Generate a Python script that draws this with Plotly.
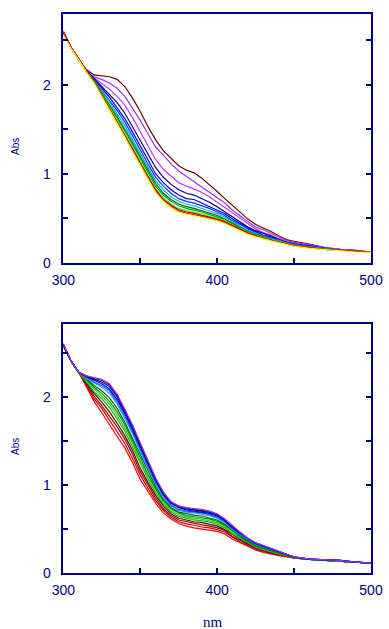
import plotly.graph_objects as go

# wavelength grid (nm)
WL = [300, 305, 310, 315, 320, 325, 330, 335, 340, 345, 350, 355, 360, 365, 370, 375,
      380, 385, 390, 395, 400, 405, 410, 415, 420, 425, 430, 435, 440, 445, 450,
      460, 470, 480, 490, 500]

# ---- top panel series ----
t_brown = [2.60,2.42,2.28,2.17,2.11,2.10,2.09,2.06,1.98,1.85,1.70,1.53,1.38,1.26,1.17,1.09,1.04,1.01,0.95,0.88,0.80,0.72,0.64,0.57,0.49,0.43,0.39,0.35,0.30,0.26,0.24,0.21,0.17,0.15,0.14,0.12]
t_purple = [2.60,2.42,2.28,2.16,2.09,2.06,2.02,1.96,1.87,1.74,1.60,1.45,1.30,1.21,1.11,1.03,0.97,0.92,0.86,0.80,0.74,0.67,0.59,0.53,0.46,0.40,0.37,0.33,0.29,0.25,0.23,0.20,0.17,0.15,0.14,0.12]
t_magenta = [2.59,2.42,2.28,2.16,2.08,2.02,1.95,1.87,1.77,1.63,1.47,1.31,1.16,1.05,0.97,0.90,0.86,0.83,0.79,0.74,0.68,0.62,0.55,0.49,0.43,0.38,0.34,0.31,0.27,0.24,0.22,0.19,0.16,0.15,0.13,0.12]
t_navy = [2.58,2.42,2.29,2.16,2.07,1.98,1.90,1.80,1.68,1.53,1.38,1.22,1.07,0.96,0.88,0.82,0.78,0.76,0.72,0.68,0.63,0.57,0.52,0.46,0.40,0.36,0.33,0.30,0.26,0.23,0.21,0.19,0.16,0.14,0.13,0.12]
t_blue = [2.58,2.42,2.29,2.15,2.06,1.96,1.86,1.74,1.62,1.47,1.31,1.15,1.00,0.90,0.82,0.76,0.72,0.71,0.67,0.63,0.59,0.55,0.49,0.44,0.39,0.35,0.31,0.29,0.26,0.23,0.21,0.18,0.16,0.14,0.13,0.12]
t_blue2 = [2.58,2.42,2.29,2.15,2.05,1.94,1.83,1.71,1.58,1.43,1.27,1.11,0.96,0.86,0.78,0.72,0.69,0.67,0.64,0.61,0.57,0.53,0.47,0.43,0.38,0.34,0.30,0.28,0.25,0.22,0.20,0.18,0.16,0.14,0.13,0.12]
t_cyan = [2.58,2.42,2.29,2.15,2.05,1.93,1.81,1.67,1.54,1.38,1.23,1.07,0.92,0.82,0.74,0.69,0.66,0.64,0.61,0.58,0.55,0.51,0.46,0.41,0.36,0.33,0.30,0.27,0.25,0.22,0.20,0.18,0.16,0.14,0.13,0.12]
t_dgreen = [2.58,2.42,2.29,2.15,2.04,1.91,1.78,1.64,1.50,1.35,1.19,1.04,0.89,0.78,0.71,0.66,0.63,0.61,0.585,0.56,0.53,0.49,0.445,0.40,0.35,0.32,0.29,0.265,0.24,0.22,0.20,0.17,0.15,0.14,0.13,0.12]
t_green = [2.58,2.42,2.29,2.15,2.04,1.90,1.77,1.62,1.48,1.33,1.17,1.01,0.86,0.76,0.69,0.64,0.61,0.59,0.57,0.54,0.515,0.48,0.435,0.39,0.35,0.31,0.28,0.26,0.24,0.22,0.20,0.17,0.15,0.14,0.13,0.12]
t_lime = [2.58,2.42,2.29,2.15,2.03,1.89,1.75,1.60,1.45,1.30,1.14,0.98,0.83,0.73,0.66,0.61,0.585,0.57,0.55,0.52,0.50,0.47,0.42,0.38,0.34,0.31,0.28,0.26,0.24,0.215,0.195,0.17,0.15,0.14,0.13,0.12]
t_darkred = [2.59,2.42,2.29,2.15,2.03,1.88,1.74,1.58,1.44,1.28,1.12,0.97,0.82,0.71,0.645,0.595,0.57,0.555,0.535,0.51,0.49,0.46,0.42,0.38,0.335,0.305,0.275,0.255,0.235,0.21,0.19,0.17,0.15,0.14,0.13,0.12]
t_red = [2.58,2.42,2.29,2.15,2.03,1.88,1.73,1.57,1.42,1.26,1.10,0.95,0.80,0.70,0.63,0.58,0.555,0.54,0.52,0.50,0.48,0.45,0.41,0.37,0.33,0.30,0.27,0.25,0.23,0.21,0.19,0.17,0.15,0.14,0.13,0.12]
t_yellow = [2.56,2.41,2.28,2.14,2.02,1.87,1.72,1.56,1.41,1.25,1.09,0.94,0.79,0.69,0.62,0.57,0.545,0.53,0.51,0.49,0.47,0.44,0.40,0.36,0.32,0.29,0.265,0.245,0.225,0.205,0.185,0.16,0.145,0.13,0.12,0.115]

# ---- bottom panel series ----
b_red = [2.58,2.41,2.28,2.12,1.95,1.82,1.68,1.55,1.42,1.25,1.06,0.92,0.79,0.68,0.61,0.56,0.53,0.51,0.495,0.485,0.47,0.44,0.38,0.34,0.30,0.26,0.23,0.21,0.195,0.18,0.165,0.15,0.14,0.13,0.12,0.11]
b_darkred = [2.58,2.41,2.28,2.13,1.98,1.87,1.74,1.61,1.47,1.30,1.11,0.96,0.82,0.71,0.63,0.58,0.555,0.54,0.52,0.51,0.49,0.46,0.40,0.35,0.31,0.27,0.24,0.22,0.20,0.18,0.167,0.15,0.14,0.13,0.12,0.11]
b_maroon = [2.58,2.41,2.28,2.15,2.01,1.90,1.78,1.66,1.52,1.35,1.15,1.00,0.85,0.73,0.65,0.60,0.58,0.56,0.545,0.53,0.51,0.48,0.41,0.37,0.32,0.28,0.25,0.225,0.205,0.185,0.168,0.15,0.14,0.13,0.12,0.11]
b_brown = [2.59,2.41,2.28,2.16,2.04,1.94,1.83,1.70,1.56,1.39,1.19,1.03,0.88,0.76,0.67,0.62,0.60,0.58,0.57,0.55,0.53,0.49,0.43,0.38,0.33,0.29,0.26,0.23,0.21,0.19,0.17,0.15,0.14,0.13,0.12,0.11]
b_green1 = [2.59,2.41,2.28,2.17,2.06,1.98,1.88,1.75,1.61,1.43,1.24,1.07,0.91,0.78,0.69,0.64,0.62,0.60,0.59,0.575,0.55,0.51,0.44,0.39,0.34,0.29,0.26,0.24,0.215,0.19,0.17,0.15,0.14,0.13,0.12,0.11]
b_green2 = [2.59,2.41,2.28,2.18,2.09,2.01,1.92,1.79,1.64,1.47,1.27,1.10,0.94,0.80,0.71,0.66,0.635,0.62,0.61,0.59,0.57,0.525,0.455,0.40,0.345,0.30,0.27,0.245,0.22,0.195,0.172,0.15,0.14,0.13,0.12,0.11]
b_green3 = [2.59,2.41,2.28,2.19,2.11,2.04,1.95,1.83,1.68,1.50,1.30,1.12,0.96,0.82,0.73,0.68,0.65,0.64,0.625,0.61,0.585,0.54,0.47,0.41,0.35,0.305,0.275,0.25,0.225,0.197,0.174,0.15,0.14,0.13,0.12,0.11]
b_dkgreen = [2.59,2.41,2.28,2.20,2.13,2.07,1.99,1.87,1.71,1.53,1.34,1.15,0.98,0.84,0.74,0.69,0.67,0.655,0.645,0.625,0.60,0.55,0.48,0.42,0.36,0.31,0.28,0.255,0.23,0.20,0.175,0.15,0.14,0.13,0.12,0.11]
b_lblue = [2.59,2.41,2.28,2.21,2.16,2.11,2.04,1.92,1.75,1.58,1.38,1.19,1.01,0.86,0.76,0.71,0.69,0.68,0.665,0.65,0.62,0.57,0.49,0.43,0.37,0.32,0.29,0.26,0.235,0.203,0.176,0.155,0.145,0.135,0.12,0.11]
b_blue = [2.59,2.41,2.28,2.22,2.17,2.13,2.07,1.94,1.78,1.60,1.40,1.21,1.03,0.88,0.77,0.72,0.70,0.69,0.68,0.66,0.63,0.58,0.50,0.44,0.37,0.33,0.30,0.27,0.236,0.205,0.177,0.155,0.145,0.135,0.12,0.11]
b_blue3 = [2.60,2.41,2.28,2.23,2.19,2.15,2.09,1.97,1.81,1.63,1.43,1.23,1.05,0.89,0.79,0.74,0.715,0.70,0.69,0.675,0.645,0.59,0.51,0.45,0.38,0.33,0.30,0.27,0.24,0.206,0.178,0.155,0.145,0.14,0.12,0.11]
b_navy = [2.60,2.41,2.28,2.23,2.20,2.17,2.12,2.00,1.83,1.65,1.45,1.25,1.06,0.90,0.80,0.75,0.725,0.715,0.70,0.685,0.655,0.60,0.52,0.45,0.385,0.335,0.305,0.275,0.24,0.208,0.179,0.155,0.145,0.14,0.12,0.11]
b_black = [2.60,2.41,2.28,2.24,2.21,2.19,2.14,2.02,1.85,1.67,1.47,1.26,1.07,0.91,0.80,0.755,0.735,0.72,0.71,0.695,0.665,0.605,0.525,0.455,0.39,0.34,0.31,0.28,0.244,0.209,0.18,0.155,0.145,0.14,0.12,0.11]
b_purple = [2.61,2.41,2.28,2.24,2.22,2.20,2.15,2.03,1.86,1.68,1.48,1.27,1.08,0.92,0.81,0.76,0.74,0.73,0.72,0.70,0.67,0.61,0.53,0.46,0.39,0.34,0.31,0.28,0.245,0.21,0.18,0.155,0.145,0.14,0.12,0.11]

X_TICKS = [300, 350, 400, 450, 500]
X_LABELS = ["300", "", "400", "", "500"]
Y_TICKS = [0, 0.5, 1, 1.5, 2, 2.5]
Y_LABELS = ["0", "", "1", "", "2", ""]

top_series = [
    (t_brown, "#660000"), (t_purple, "#9933ff"), (t_magenta, "#cc33ff"),
    (t_navy, "#000080"), (t_blue, "#0000cc"), (t_blue2, "#0033ff"),
    (t_cyan, "#00aaff"), (t_dgreen, "#006600"), (t_green, "#00aa00"),
    (t_lime, "#33ff33"), (t_darkred, "#990000"), (t_red, "#ff0000"),
    (t_yellow, "#ffff00"),
]
bottom_series = [
    (b_red, "#ff0000"), (b_darkred, "#cc0000"), (b_maroon, "#990000"),
    (b_brown, "#660000"), (b_green1, "#00bb00"), (b_green2, "#33cc33"),
    (b_green3, "#009900"), (b_dkgreen, "#006600"), (b_lblue, "#3399ff"),
    (b_blue, "#0066ff"), (b_blue3, "#0000ff"), (b_navy, "#000099"),
    (b_black, "#330033"), (b_purple, "#9933ff"),
]

NAVY = "#000080"
fig = go.Figure()
for ys, c in top_series:
    fig.add_trace(go.Scatter(x=WL, y=ys, mode="lines", line=dict(color=c, width=1.2),
                             xaxis="x", yaxis="y", showlegend=False, hoverinfo="skip"))
for ys, c in bottom_series:
    fig.add_trace(go.Scatter(x=WL, y=ys, mode="lines", line=dict(color=c, width=1.2),
                             xaxis="x2", yaxis="y2", showlegend=False, hoverinfo="skip"))

W, H = 389, 629
xd = [63.3 / W, 371 / W]
top_dom = [(H - 262.7) / H, (H - 14) / H]
bot_dom = [(H - 572.7) / H, (H - 324) / H]

tickfont = dict(family="Liberation Sans, Arial, sans-serif", size=14, color=NAVY)

def xaxis(anchor):
    return dict(domain=xd, range=[300, 500], anchor=anchor, tickmode="array",
                tickvals=X_TICKS, ticktext=X_LABELS, ticks="inside", ticklen=5,
                tickcolor=NAVY, tickwidth=1.5, showline=True, linecolor=NAVY,
                linewidth=1.5, mirror=True, showgrid=False, zeroline=False,
                tickfont=tickfont, ticklabelstandoff=4, automargin=False)

def yaxis(anchor, dom, top):
    return dict(domain=dom, range=[0, top], anchor=anchor, tickmode="array",
                tickvals=Y_TICKS, ticktext=Y_LABELS, ticks="inside", ticklen=5,
                tickcolor=NAVY, tickwidth=1.5, showline=True, linecolor=NAVY,
                linewidth=1.5, mirror="ticks", showgrid=False, zeroline=False,
                tickfont=tickfont, ticklabelstandoff=8, automargin=False)

fig.update_layout(
    width=W, height=H, margin=dict(l=0, r=0, t=0, b=0, autoexpand=False),
    paper_bgcolor="white", plot_bgcolor="white",
    xaxis=xaxis("y"), yaxis=yaxis("x", top_dom, 2.795),
    xaxis2=xaxis("y2"), yaxis2=yaxis("x2", bot_dom, 2.83),
    annotations=[
        dict(text="Abs", x=15 / W, y=(H - 147) / H, xref="paper", yref="paper",
             textangle=-90, showarrow=False, xanchor="center", yanchor="middle",
             font=dict(family="Liberation Sans, Arial, sans-serif", size=10, color=NAVY)),
        dict(text="Abs", x=15 / W, y=(H - 447) / H, xref="paper", yref="paper",
             textangle=-90, showarrow=False, xanchor="center", yanchor="middle",
             font=dict(family="Liberation Sans, Arial, sans-serif", size=10, color=NAVY)),
        dict(text="nm", x=213 / W, y=(H - 622) / H, xref="paper", yref="paper",
             showarrow=False, xanchor="center", yanchor="middle",
             font=dict(family="Liberation Serif, Times New Roman, serif", size=15, color=NAVY)),
    ],
)

fig.write_html("out.html", config={"displayModeBar": False},
               post_script="document.body.style.margin='0px';document.body.style.overflow='hidden';")
